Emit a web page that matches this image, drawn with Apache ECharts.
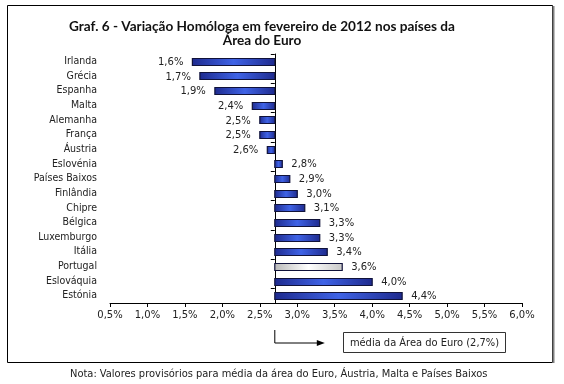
<!DOCTYPE html>
<html><head><meta charset="utf-8">
<script src="https://cdn.jsdelivr.net/npm/echarts@6/dist/echarts.min.js"></script>
<style>html,body{margin:0;padding:0;background:#fff}#c{width:564px;height:384px}</style>
</head><body><div id="c"></div>
<script>
const categories = ['Irlanda','Grécia','Espanha','Malta','Alemanha','França','Áustria','Eslovénia','Países Baixos','Finlândia','Chipre','Bélgica','Luxemburgo','Itália','Portugal','Eslováquia','Estónia'];
const values = [1.6,1.7,1.9,2.4,2.5,2.5,2.6,2.8,2.9,3.0,3.1,3.3,3.3,3.4,3.6,4.0,4.4];
const baseline = 2.7;
const highlight = 'Portugal';
const xMin = 0.5, xMax = 6.0, xStep = 0.5;
const titleLines = ['Graf. 6 - Variação Homóloga em fevereiro de 2012 nos países da', 'Área do Euro'];
const refLabel = 'média da Área do Euro (2,7%)';
const noteText = 'Nota: Valores provisórios para média da área do Euro, Áustria, Malta e Países Baixos';

const fmt = v => v.toFixed(1).replace('.', ',') + '%';
const numFont = '10px "DejaVu Sans"';
const chart = echarts.init(document.getElementById('c'), null, {renderer: 'canvas'});

const blueFill = () => new echarts.graphic.LinearGradient(0, 0, 1, 0, [
  {offset: 0, color: '#1e2a8e'}, {offset: 0.5, color: '#3f63e6'}, {offset: 1, color: '#1e2a8e'}]);
const greyFill = () => new echarts.graphic.LinearGradient(0, 0, 1, 0, [
  {offset: 0, color: '#b8b8b8'}, {offset: 0.5, color: '#ffffff'}, {offset: 1, color: '#c8c8c8'}]);

const grid = {left: 110, right: 42, top: 54, bottom: 81};

const option = {
  animation: false,
  backgroundColor: '#fff',
  grid: grid,
  xAxis: {
    type: 'value', min: xMin, max: xMax, interval: xStep,
    axisLine: {show: true, lineStyle: {color: '#000', width: 1}},
    axisTick: {show: true, length: 4, lineStyle: {color: '#000'}},
    splitLine: {show: false},
    axisLabel: {formatter: fmt, fontFamily: 'DejaVu Sans', fontSize: 10, color: '#222', margin: 7}
  },
  yAxis: [
    {type: 'category', inverse: true, data: categories, position: 'left',
     axisLine: {show: false}, axisTick: {show: false},
     axisLabel: {fontFamily: 'DejaVu Sans Condensed', fontSize: 10.5, color: '#222', margin: 13}},
    {type: 'category', inverse: true, data: categories, position: 'left', offset: 0,
     axisLine: {show: true, lineStyle: {color: '#000', width: 1}},
     axisTick: {show: true, length: 4, lineStyle: {color: '#000'}},
     axisLabel: {show: false}}
  ],
  series: [{
    type: 'custom',
    xAxisIndex: 0, yAxisIndex: 0,
    encode: {x: 1, y: 0},
    data: values.map((v, i) => [i, v]),
    renderItem: function (params, api) {
      const cat = api.value(0), v = api.value(1);
      const p0 = api.coord([baseline, cat]);
      const p1 = api.coord([v, cat]);
      const h = 7;
      const x = Math.min(p0[0], p1[0]);
      const w = Math.abs(p1[0] - p0[0]);
      const isHi = categories[params.dataIndex] === highlight;
      const right = v >= baseline;
      return {type: 'group', children: [
        {type: 'rect', shape: {x: x, y: Math.round(p0[1] - h / 2) + 0.5, width: w, height: h},
         style: {fill: isHi ? greyFill() : blueFill(), stroke: '#10123a', lineWidth: 1.2}},
        {type: 'text', style: {text: fmt(v), x: right ? p1[0] + 9 : p1[0] - 9, y: p0[1] + 1,
          align: right ? 'left' : 'right', verticalAlign: 'middle', font: numFont, fill: '#222'}}
      ]};
    }
  }]
};
chart.setOption(option);

const px = chart.convertToPixel({xAxisIndex: 0}, baseline);
const axisY = 384 - grid.bottom;
chart.setOption({
  yAxis: [{}, {offset: grid.left - px}],
  graphic: [
    {type: 'rect', shape: {x: 7.5, y: 5.5, width: 545, height: 357}, style: {fill: 'none', stroke: '#000', lineWidth: 1}, z: 10},
    {type: 'line', shape: {x1: 553.5, y1: 6, x2: 553.5, y2: 363}, style: {stroke: '#808080', lineWidth: 2}, z: 10},
    {type: 'text', x: 262, y: 27, style: {text: titleLines[0], align: 'center', verticalAlign: 'middle', font: 'bold 13.6px Lato', fill: '#111'}},
    {type: 'text', x: 262, y: 41, style: {text: titleLines[1], align: 'center', verticalAlign: 'middle', font: 'bold 13.6px Lato', fill: '#111'}},
    {type: 'polyline', shape: {points: [[px, axisY + 27], [px, axisY + 40], [px + 44, axisY + 40]]}, style: {stroke: '#000', lineWidth: 1, fill: 'none'}},
    {type: 'polygon', shape: {points: [[px + 42, axisY + 37], [px + 50, axisY + 40], [px + 42, axisY + 43]]}, style: {fill: '#000'}},
    {type: 'rect', shape: {x: 343.5, y: 332.5, width: 162, height: 20}, style: {fill: '#fff', stroke: '#333', lineWidth: 1}},
    {type: 'text', x: 424.5, y: 343, style: {text: refLabel, align: 'center', verticalAlign: 'middle', font: '11px "DejaVu Sans Condensed"', fill: '#222'}},
    {type: 'text', x: 70, y: 374, style: {text: noteText, align: 'left', verticalAlign: 'middle', font: '11px "DejaVu Sans Condensed"', fill: '#222'}}
  ]
});
</script></body></html>
